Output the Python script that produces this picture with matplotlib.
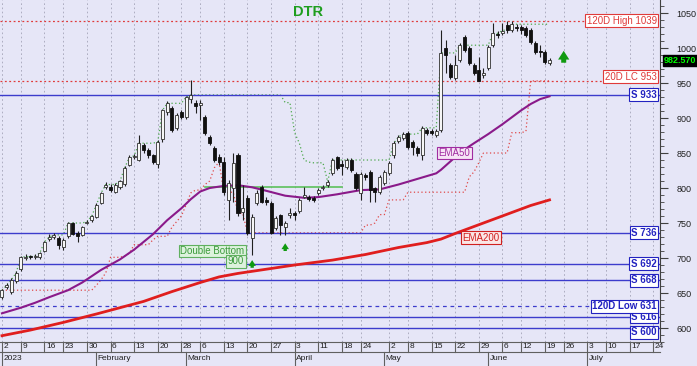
import numpy as np
import pandas as pd
import matplotlib
matplotlib.use("Agg")
import matplotlib.pyplot as plt
from matplotlib.transforms import blended_transform_factory
from matplotlib.patches import Rectangle
from matplotlib.lines import Line2D
from matplotlib.ticker import MultipleLocator

plt.rcParams['font.family'] = ['Liberation Sans', 'DejaVu Sans']

# ---------------- data ----------------
opens = [644, 659, 651, 667, 684, 700, 703, 701, 701, 710, 727, 730, 729, 716, 731, 750, 736, 733, 750, 754,
         759, 779, 802, 801, 795, 801, 806, 833, 845, 840, 861, 854, 847, 834, 870, 909, 914, 886, 909, 901,
         927, 921, 919, 901, 873, 857, 844, 837, 783, 800, 847, 766, 786, 729, 779, 801, 783, 779, 743, 761,
         744, 762, 764, 767, 787, 787, 786, 793, 800, 804, 821, 844, 834, 830, 840, 820, 793, 819, 823, 800,
         794, 807, 821, 847, 867, 871, 879, 866, 857, 847, 883, 882, 876, 883, 1000, 976, 957, 983, 1016, 1000,
         976, 969, 962, 971, 1004, 1020, 1021, 1033, 1026, 1030, 1030, 1029, 1026, 1007, 996, 994, 979]
highs = [656, 664, 671, 682, 703, 706, 705, 706, 709, 725, 734, 736, 731, 728, 752, 752, 738, 746, 755, 762,
         778, 795, 808, 806, 807, 812, 831, 847, 849, 876, 864, 857, 849, 868, 913, 925, 917, 907, 912, 932,
         954, 926, 926, 905, 876, 860, 849, 845, 812, 850, 850, 804, 790, 763, 797, 804, 787, 781, 760, 763,
         753, 771, 767, 786, 801, 790, 789, 800, 805, 812, 843, 846, 840, 843, 843, 823, 823, 822, 826, 801,
         819, 826, 839, 867, 876, 880, 881, 869, 860, 889, 886, 885, 884, 1026, 1011, 979, 990, 1007, 1019, 1003,
         979, 987, 971, 1004, 1036, 1024, 1036, 1038, 1039, 1034, 1033, 1032, 1029, 1010, 1004, 997, 986]
lows = [642, 656, 648, 664, 682, 697, 698, 698, 699, 708, 724, 727, 713, 711, 729, 733, 723, 731, 748, 751,
        757, 777, 799, 795, 793, 799, 803, 831, 842, 838, 850, 843, 834, 829, 866, 905, 880, 883, 898, 898,
        921, 907, 897, 876, 861, 837, 833, 790, 755, 780, 760, 754, 733, 704, 776, 778, 776, 734, 740, 733,
        733, 757, 754, 764, 786, 781, 780, 790, 797, 801, 818, 826, 819, 827, 823, 797, 783, 812, 780, 780,
        791, 804, 818, 843, 864, 868, 856, 847, 846, 840, 876, 876, 873, 880, 964, 956, 954, 980, 994, 976,
        961, 953, 957, 968, 1001, 1014, 1018, 1022, 1023, 1024, 1020, 1016, 1006, 991, 987, 977, 976]
closes = [654, 661, 669, 679, 701, 702, 701, 703, 707, 723, 730, 733, 719, 726, 750, 735, 731, 744, 752, 760,
          776, 793, 805, 797, 805, 810, 829, 844, 846, 864, 855, 847, 837, 866, 911, 921, 883, 904, 901, 930,
          933, 917, 922, 879, 864, 840, 837, 794, 807, 836, 764, 771, 736, 759, 793, 780, 780, 736, 757, 747,
          750, 764, 762, 783, 790, 785, 783, 797, 802, 809, 840, 829, 831, 840, 826, 800, 820, 816, 797, 794,
          816, 823, 836, 864, 873, 877, 859, 859, 850, 886, 879, 879, 881, 993, 990, 959, 976, 1004, 997, 979,
          964, 953, 964, 1001, 1021, 1019, 1025, 1026, 1034, 1029, 1026, 1019, 1009, 994, 995, 980, 982.57]

holidays = ['2023-01-02', '2023-01-16', '2023-02-20', '2023-04-07',
            '2023-05-29', '2023-06-19', '2023-07-04']
tick_dates = ['2023-01-02', '2023-01-09', '2023-01-16', '2023-01-23', '2023-01-30',
              '2023-02-06', '2023-02-13', '2023-02-20', '2023-02-28', '2023-03-06',
              '2023-03-13', '2023-03-20', '2023-03-27', '2023-04-03', '2023-04-11',
              '2023-04-18', '2023-04-24', '2023-05-02', '2023-05-08', '2023-05-15',
              '2023-05-22', '2023-05-29', '2023-06-06', '2023-06-12', '2023-06-19',
              '2023-06-26', '2023-07-03', '2023-07-10', '2023-07-17', '2023-07-24']
month_starts = ['2023-01-02', '2023-02-01', '2023-03-01', '2023-04-01',
                '2023-05-01', '2023-06-01', '2023-07-01']
month_labels = ['2023', 'February', 'March', 'April', 'May', 'June', 'July']

ema50_idx = [0, 4, 7, 10, 14, 17, 21, 25, 28, 32, 35, 38, 40, 42, 44, 47, 50, 53, 56, 60,
             64, 67, 71, 76, 80, 84, 88, 90, 92, 93, 94, 96, 98, 100, 103, 106, 108, 110,
             112, 114, 116]
ema50_val = [621, 629, 636, 644, 654, 665, 683, 698, 712, 734, 754, 771, 784, 795, 800, 803,
             804, 801, 796, 789, 786, 787, 791, 797, 798, 805, 813, 817, 821, 826, 832, 844,
             855, 864, 877, 891, 901, 911, 920, 927, 931]
ema200_idx = [0, 6, 13, 20, 30, 36, 42, 46, 50, 54, 62, 70, 77, 84, 90, 93, 96, 100, 104,
              108, 112, 116]
ema200_val = [589, 597, 608, 620, 638, 652, 665, 673, 678, 682, 690, 697, 705, 715, 722, 727,
              735, 745, 755, 765, 775, 783]

support_levels = [933, 736, 692, 668, 616, 600]
high_120d = 1039
low_120d = 631
lc_20d = 953
neckline_level = 802
neckline_span = [43, 72]
db_target = 900
arrow_idx = [53, 60, 119]
arrow_tip = [697, 721, 996]
arrow_big = [False, False, True]

# ---------------- colours ----------------
BG = '#E6E6F7'
BLUE = '#3C3CCC'
RED = '#E03A3A'
PURPLE = '#8A1A8A'

calendar = pd.bdate_range('2023-01-03', '2023-07-31', freq='C', holidays=holidays)
n = len(closes)
xs = np.arange(n)
tick_pos = calendar.searchsorted(pd.to_datetime(tick_dates))
tick_lab = [str(pd.Timestamp(d).day) for d in tick_dates]
month_pos = calendar.searchsorted(pd.to_datetime(month_starts))

W, H = 697, 366
fig = plt.figure(figsize=(W / 100, H / 100), dpi=100)
fig.patch.set_facecolor(BG)
ax = fig.add_axes([0, 24 / H, 660 / W, 342 / H])
ax.set_facecolor(BG)
ax.set_xlim(-0.42, 139.4)
ax.set_ylim(580, 1068.6)

# grid
for p in tick_pos:
    ax.axvline(p, color='#A4A4B8', lw=0.6, ls=(0, (2, 3)), zorder=0.5)

# rolling 20-day highest / lowest close
cs = pd.Series(closes)
hc20 = cs.rolling(20, min_periods=1).max()
lc20 = cs.rolling(20, min_periods=1).min()
ax.plot(xs, hc20, color='#4CA84C', lw=0.9, ls=(0, (1, 2)), zorder=1)
ax.plot(xs, lc20, color='#E04848', lw=0.9, ls=(0, (1, 2)), zorder=1)

# horizontal levels
for lv in support_levels:
    ax.axhline(lv, color=BLUE, lw=1.0, zorder=2)
ax.axhline(low_120d, color=BLUE, lw=0.9, ls=(0, (3, 3)), zorder=2)
ax.axhline(high_120d, color=RED, lw=0.9, ls=(0, (1.5, 2)), zorder=2)
ax.axhline(lc_20d, color=RED, lw=0.9, ls=(0, (1.5, 2)), zorder=2)

# neckline
ax.plot(neckline_span, [neckline_level, neckline_level], color='#5CC05C', lw=1.2, zorder=2.2)

# EMAs
ax.plot(ema50_idx, ema50_val, color=PURPLE, lw=1.5, zorder=2.5, solid_joinstyle='round')
ax.plot(ema200_idx, ema200_val, color='#E01E1E', lw=2.0, zorder=2.5, solid_joinstyle='round')

# candles
bw = 0.64
for i in range(n):
    o, h, l, c = opens[i], highs[i], lows[i], closes[i]
    ax.plot([i, i], [l, h], color='#202020', lw=0.8, zorder=3, solid_capstyle='butt')
    up = c >= o
    lo = min(o, c)
    ht = max(abs(c - o), 1.0)
    ax.add_patch(Rectangle((i - bw / 2, lo), bw, ht,
                           facecolor='#F6F6F6' if up else '#101010',
                           edgecolor='#303030' if up else '#101010',
                           lw=0.6, zorder=3.2))

# arrows
for xi, yt, big in zip(arrow_idx, arrow_tip, arrow_big):
    hgt = 17 if big else 11
    ms = 9 if big else 6
    ax.annotate('', xy=(xi, yt), xytext=(xi, yt - hgt),
                arrowprops=dict(arrowstyle='simple,head_width=0.9,head_length=0.7,tail_width=0.4',
                                color='#109A10', lw=0, mutation_scale=ms,
                                shrinkA=0, shrinkB=0),
                zorder=4)

# in-chart labels
def boxed(x, y, s, tc, ec, fc, ha='center', weight='normal', fs=7):
    ax.text(x, y, s, color=tc, fontsize=fs, ha=ha, va='center', fontweight=weight, zorder=5,
            bbox=dict(boxstyle='square,pad=0.15', fc=fc, ec=ec, lw=0.8))

boxed(51.3, 710, 'Double Bottom', '#3A9A3A', '#60B060', '#DDF2DD', ha='right')
boxed(51.3, 695.5, str(db_target), '#3A9A3A', '#60B060', '#DDF2DD', ha='right')
boxed(95.8, 850, 'EMA50', '#A02CA0', '#A02CA0', '#F6E4F6')
boxed(101.5, 729, 'EMA200', '#D02020', '#D02020', '#FBE6E6')

# right-side level labels
rtrans = blended_transform_factory(ax.transAxes, ax.transData)
def level_label(y, s, col, weight='normal', dy=0):
    ax.annotate(s, xy=(0.995, y), xycoords=rtrans, xytext=(0, dy), textcoords='offset points',
                ha='right', va='center', color=col, fontsize=7, fontweight=weight, zorder=6,
                bbox=dict(boxstyle='square,pad=0.15', fc='white', ec=col, lw=0.8))

level_label(high_120d, f'120D High {high_120d}', RED)
level_label(lc_20d, f'20D LC {lc_20d}', RED, dy=3)
for lv in support_levels:
    level_label(lv, f'S {lv}', '#2222C0', weight='bold', dy=(-3 if lv == 600 else 0))
level_label(low_120d, f'120D Low {low_120d}', '#2222C0', weight='bold')

# last price tag
ax.annotate(f'{closes[-1]:.3f}', xy=(1.0, closes[-1]), xycoords=rtrans, xytext=(2.5, 0),
            textcoords='offset points', ha='left', va='center', color='#00FF00', fontsize=6.5,
            fontweight='bold', annotation_clip=False, zorder=7,
            bbox=dict(boxstyle='square,pad=0.1', fc='black', ec='black'))

# title
fig.text(308 / W, 1 - 12 / H, 'DTR', color='#1E9E1E', fontsize=10.5, fontweight='bold',
         ha='center', va='center')

# y axis on right
ax.yaxis.tick_right()
ax.set_yticks(np.arange(600, 1051, 50))
ax.yaxis.set_minor_locator(MultipleLocator(10))
ax.tick_params(axis='y', which='major', length=6, width=0.8, color='#404040', labelsize=6.5,
               pad=6, labelcolor='#202020')
ax.tick_params(axis='y', which='minor', length=3, width=0.6, color='#404040')
ax.set_xticks([])
for s in ['left', 'top']:
    ax.spines[s].set_visible(False)
ax.spines['right'].set_color('#404040')
ax.spines['bottom'].set_color('#606060')
ax.spines['bottom'].set_linewidth(0.8)

# date rows below the axes
btrans = blended_transform_factory(ax.transData, fig.transFigure)
r_top, r_mid = 24 / H, 14 / H
fig.add_artist(Line2D([0, 660 / W], [r_mid, r_mid], transform=fig.transFigure,
                      color='#606060', lw=0.8))
for p, lab in zip(tick_pos, tick_lab):
    ax.plot([p, p], [r_mid, r_top], transform=btrans, clip_on=False, color='#606060', lw=0.8)
    ax.text(p + 0.3, (r_mid + r_top) / 2, lab, transform=btrans, fontsize=6, ha='left',
            va='center', color='#202020', clip_on=False)
for p, lab in zip(month_pos, month_labels):
    ax.plot([p, p], [0, r_mid], transform=btrans, clip_on=False, color='#606060', lw=0.8)
    ax.text(p + 0.3, r_mid / 2, lab, transform=btrans, fontsize=6, ha='left',
            va='center', color='#202020', clip_on=False)

fig.savefig('out.png', dpi=100, facecolor=fig.get_facecolor())
